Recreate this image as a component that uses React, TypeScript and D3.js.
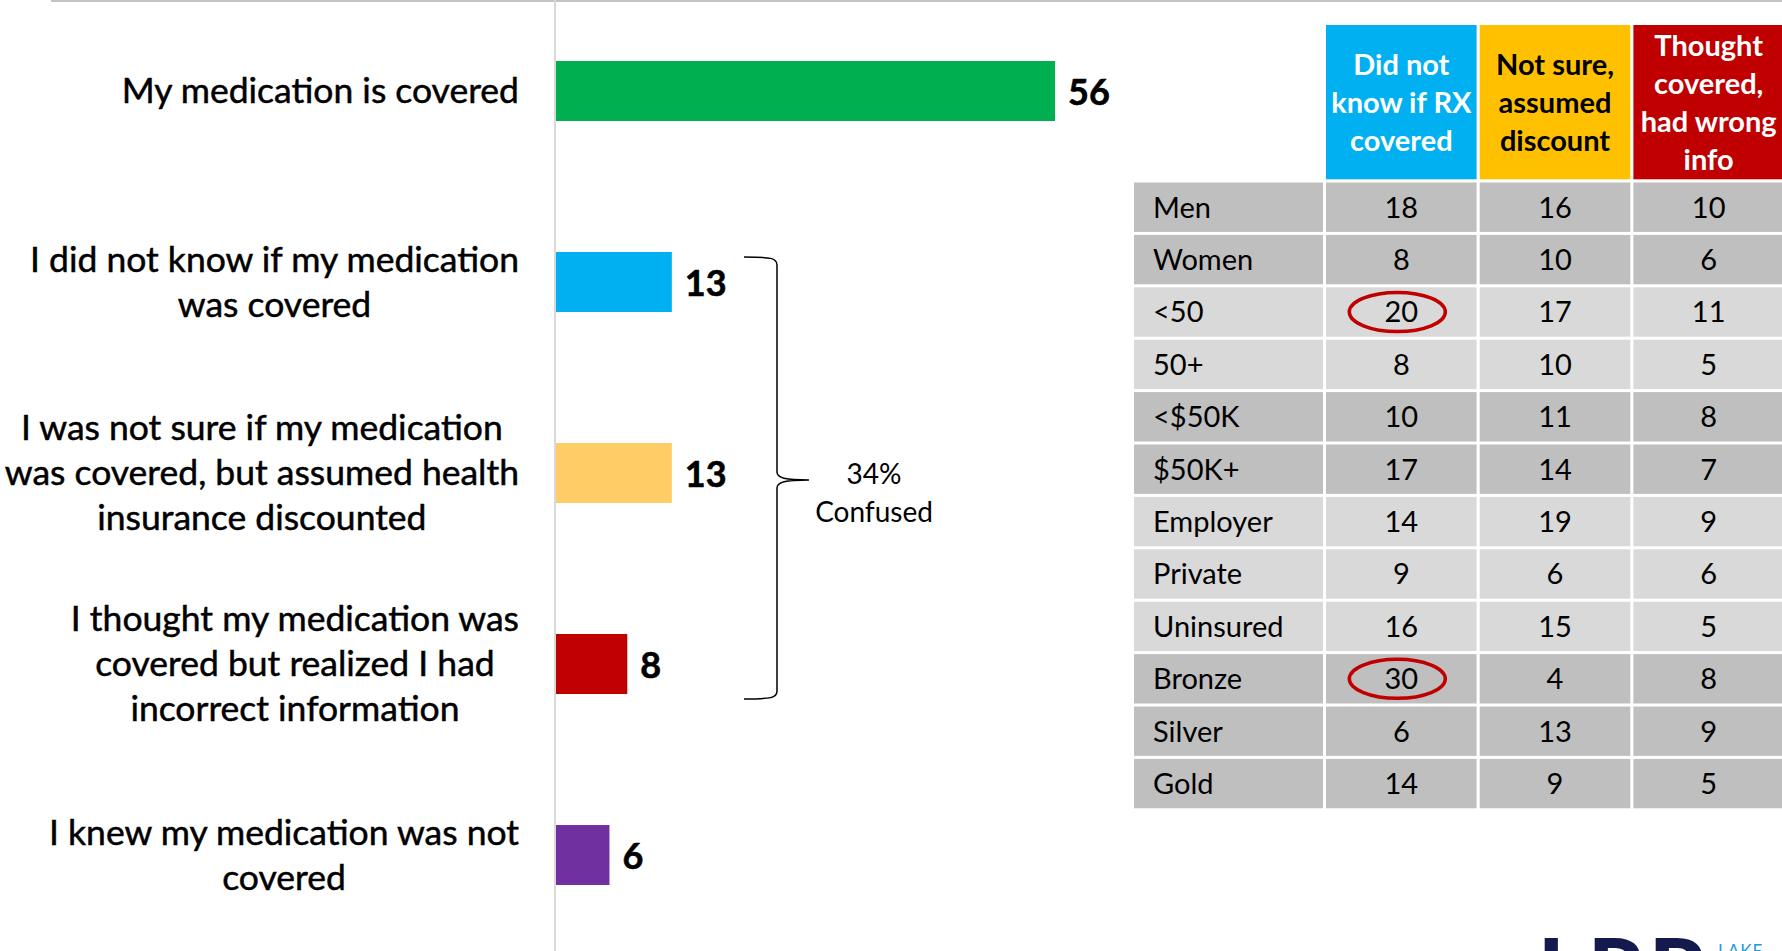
import React, { useEffect, useRef } from "react";
import * as d3 from "d3";

const categories = [
  "My medication is covered",
  "I did not know if my medication was covered",
  "I was not sure if my medication was covered, but assumed health insurance discounted",
  "I thought my medication was covered but realized I had incorrect information",
  "I knew my medication was not covered",
];
const categoryLines = [
  ["My medication is covered"],
  ["I did not know if my medication", "was covered"],
  ["I was not sure if my medication", "was covered, but assumed health", "insurance discounted"],
  ["I thought my medication was", "covered but realized I had", "incorrect information"],
  ["I knew my medication was not", "covered"],
];
const values = [56, 13, 13, 8, 6];
const barColors = ["#00B050", "#00B0F0", "#FFCC66", "#C00000", "#7030A0"];

const bracketLabel = ["34%", "Confused"];

const tableColumns = ["Did not know if RX covered", "Not sure, assumed discount", "Thought covered, had wrong info"];
const tableColumnLines = [
  ["Did not", "know if RX", "covered"],
  ["Not sure,", "assumed", "discount"],
  ["Thought", "covered,", "had wrong", "info"],
];
const headerColors = ["#00B0F0", "#FFC000", "#C00000"];
const headerTextColors = ["#FFFFFF", "#000000", "#FFFFFF"];

const rowLabels = ["Men", "Women", "<50", "50+", "<$50K", "$50K+", "Employer", "Private", "Uninsured", "Bronze", "Silver", "Gold"];
const didNotKnow = [18, 8, 20, 8, 10, 17, 14, 9, 16, 30, 6, 14];
const notSure = [16, 10, 17, 10, 11, 14, 19, 6, 15, 4, 13, 9];
const thoughtCovered = [10, 6, 11, 5, 8, 7, 9, 6, 5, 8, 9, 5];
const rowShade = ["dark", "dark", "light", "light", "dark", "dark", "light", "light", "light", "dark", "dark", "dark"];
const circled = [
  { row: "<50", col: 0 },
  { row: "Bronze", col: 0 },
];

const W = 1782;
const H = 951;

export default function App() {
  const ref = useRef<SVGSVGElement>(null);

  useEffect(() => {
    const svg = d3.select(ref.current);
    svg.selectAll("*").remove();
    const font = "Lato, 'Open Sans', sans-serif";

    // frame lines
    svg.append("line").attr("x1", 51).attr("x2", W).attr("y1", 1).attr("y2", 1)
      .attr("stroke", "#c4c4c4").attr("stroke-width", 2);

    const x = d3.scaleLinear().domain([0, 56]).range([556, 1055]);
    const y = d3.scaleBand<string>().domain(categories).range([-4.5, 950.5])
      .paddingInner(0.686).paddingOuter(0.343);

    svg.append("line").attr("x1", 555).attr("x2", 555).attr("y1", 0).attr("y2", H)
      .attr("stroke", "#d9d9d9").attr("stroke-width", 2);

    // bars
    svg.append("g").selectAll("rect").data(categories).join("rect")
      .attr("x", x(0))
      .attr("y", (d) => y(d)!)
      .attr("width", (d, i) => x(values[i]) - x(0))
      .attr("height", y.bandwidth())
      .attr("fill", (d, i) => barColors[i]);

    // value labels
    svg.append("g").selectAll("text").data(categories).join("text")
      .attr("x", (d, i) => x(values[i]) + 13)
      .attr("y", (d) => y(d)! + y.bandwidth() / 2 + 1)
      .attr("dy", "0.36em")
      .attr("font-family", font).attr("font-weight", 700).attr("font-size", 36)
      .attr("fill", "#000").attr("stroke", "#000").attr("stroke-width", 0.6)
      .text((d, i) => values[i]);

    // category labels (block right-aligned, lines centered)
    const labelRight = 519;
    const lineH = 45;
    const lg = svg.append("g");
    categories.forEach((c, i) => {
      const lines = categoryLines[i];
      const cy = y(c)! + y.bandwidth() / 2;
      const texts = lines.map((ln, j) =>
        lg.append("text")
          .attr("y", cy + (j - (lines.length - 1) / 2) * lineH)
          .attr("dy", "0.35em")
          .attr("text-anchor", "middle")
          .attr("font-family", font).attr("font-size", 35.5)
          .attr("fill", "#000").attr("stroke", "#000").attr("stroke-width", 0.5)
          .text(ln)
      );
      const maxW = d3.max(texts, (t) => (t.node() as SVGTextElement).getComputedTextLength()) || 0;
      texts.forEach((t) => t.attr("x", labelRight - maxW / 2));
    });

    // bracket
    const top = y(categories[1])! + 5;
    const bot = y(categories[3])! + y.bandwidth() + 5;
    const mid = (top + bot) / 2 + 2;
    const bx0 = 744, bx1 = 777, bx2 = 809;
    const p = d3.path();
    p.moveTo(bx0, top);
    p.bezierCurveTo(bx1 - 6, top, bx1, top + 1, bx1, top + 8);
    p.lineTo(bx1, mid - 8);
    p.bezierCurveTo(bx1, mid - 2, bx1 + 8, mid, bx2, mid);
    p.moveTo(bx2, mid);
    p.bezierCurveTo(bx1 + 8, mid, bx1, mid + 2, bx1, mid + 8);
    p.lineTo(bx1, bot - 8);
    p.bezierCurveTo(bx1, bot - 1, bx1 - 6, bot, bx0, bot);
    svg.append("path").attr("d", p.toString()).attr("fill", "none")
      .attr("stroke", "#000").attr("stroke-width", 1.5);

    svg.append("g").selectAll("text").data(bracketLabel).join("text")
      .attr("x", 874)
      .attr("y", (d, i) => mid - 6 + i * 38)
      .attr("dy", "0.35em")
      .attr("text-anchor", "middle")
      .attr("font-family", font).attr("font-size", 28).attr("fill", "#000")
      .text((d) => d);

    // table
    const ry = d3.scaleBand<string>().domain(rowLabels).range([182.5, 808.3]).paddingInner(0.0574);
    const cx = d3.scaleBand<string>().domain(tableColumns).range([1326, 1784]).paddingInner(0.02);
    const firstColX0 = 1134, firstColX1 = 1323;
    const headTop = 25, headBot = 179.3;
    const shade = (s: string) => (s === "dark" ? "#BFBFBF" : "#D9D9D9");
    const series = [didNotKnow, notSure, thoughtCovered];

    const tg = svg.append("g");
    // header
    tableColumns.forEach((c, ci) => {
      tg.append("rect").attr("x", cx(c)!).attr("y", headTop)
        .attr("width", cx.bandwidth()).attr("height", headBot - headTop)
        .attr("fill", headerColors[ci]);
      const lines = tableColumnLines[ci];
      const hc = (headTop + headBot) / 2;
      lines.forEach((ln, j) => {
        tg.append("text")
          .attr("x", cx(c)! + cx.bandwidth() / 2)
          .attr("y", hc + (j - (lines.length - 1) / 2) * 38)
          .attr("dy", "0.36em")
          .attr("text-anchor", "middle")
          .attr("font-family", font).attr("font-weight", 700).attr("font-size", 29)
          .attr("fill", headerTextColors[ci])
          .text(ln);
      });
    });

    rowLabels.forEach((r, ri) => {
      const yy = ry(r)!;
      const h = ry.bandwidth();
      tg.append("rect").attr("x", firstColX0).attr("y", yy)
        .attr("width", firstColX1 - firstColX0).attr("height", h)
        .attr("fill", shade(rowShade[ri]));
      tg.append("text").attr("x", firstColX0 + 19).attr("y", yy + h / 2)
        .attr("dy", "0.36em")
        .attr("font-family", font).attr("font-size", 29).attr("fill", "#000")
        .text(r);
      tableColumns.forEach((c, ci) => {
        tg.append("rect").attr("x", cx(c)!).attr("y", yy)
          .attr("width", cx.bandwidth()).attr("height", h)
          .attr("fill", shade(rowShade[ri]));
        tg.append("text").attr("x", cx(c)! + cx.bandwidth() / 2).attr("y", yy + h / 2)
          .attr("dy", "0.36em")
          .attr("text-anchor", "middle")
          .attr("font-family", font).attr("font-size", 29).attr("fill", "#000")
          .text(series[ci][ri]);
      });
    });

    // circled values
    tg.selectAll("ellipse").data(circled).join("ellipse")
      .attr("cx", (d) => cx(tableColumns[d.col])! + cx.bandwidth() / 2 - 4)
      .attr("cy", (d) => ry(d.row)! + ry.bandwidth() / 2)
      .attr("rx", 48).attr("ry", 19.5)
      .attr("fill", "none").attr("stroke", "#C00000").attr("stroke-width", 3.5);

    // logo (cut off at bottom edge, as in the source slide)
    svg.append("text").attr("x", 1538).attr("y", 1002)
      .attr("font-family", font).attr("font-weight", 900).attr("font-size", 88)
      .attr("letter-spacing", 4).attr("fill", "#141a4e").text("LRP");
    svg.append("text").attr("x", 1718).attr("y", 957)
      .attr("font-family", font).attr("font-size", 17)
      .attr("letter-spacing", 1).attr("fill", "#1e9bd7").text("LAKE");
  }, []);

  return (
    <svg
      ref={ref}
      width={W}
      height={H}
      style={{ position: "absolute", left: 0, top: 0, background: "#fff" }}
    />
  );
}
